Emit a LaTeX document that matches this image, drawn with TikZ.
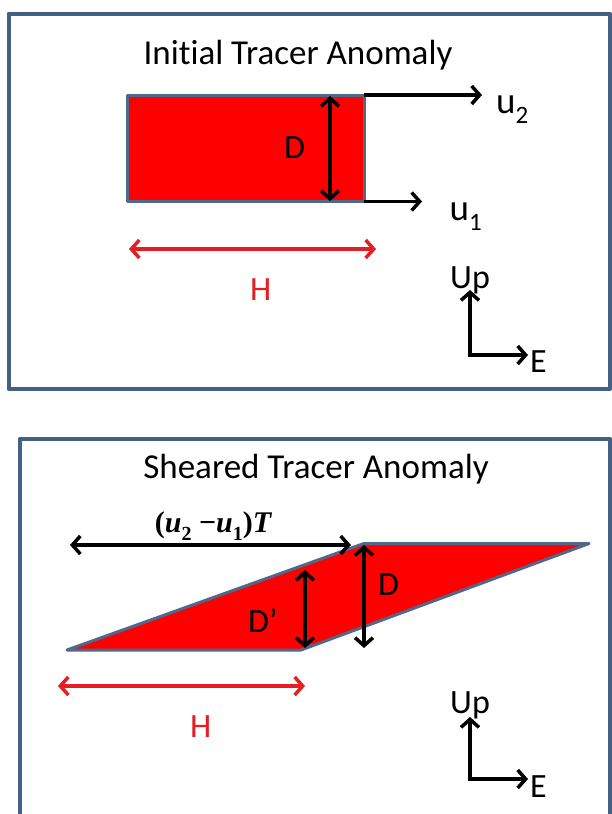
\documentclass[tikz,border=0pt]{standalone}
\usepackage{fontspec}
\setmainfont{Carlito}[Ligatures=NoCommon]
\newfontfamily\tnr{Liberation Serif}
\usetikzlibrary{arrows.meta}
\definecolor{framec}{RGB}{68,96,130}
\definecolor{edgec}{RGB}{80,104,140}
\definecolor{fillred}{RGB}{255,0,0}
\definecolor{hred}{RGB}{228,30,34}
\newcommand\subsc[2]{\raisebox{-0.28em}{\fontsize{#1}{#1}\selectfont #2}}
\begin{document}
\begin{tikzpicture}[x=1pt,y=-1pt,
  frm/.style={draw=framec,line width=4pt,line join=round},
  blob/.style={fill=fillred,draw=edgec,line width=3pt,line join=round},
  arr/.style={line width=3.5pt,-{Straight Barb[length=8pt,width=18pt]}},
  dbl/.style={line width=3.5pt,{Straight Barb[length=8pt,width=18pt]}-{Straight Barb[length=8pt,width=18pt]}},
  lbl/.style={inner sep=0pt,anchor=base west,font=\fontsize{34}{38}\selectfont},
  ttl/.style={inner sep=0pt,anchor=base,font=\fontsize{35}{40}\selectfont},
]
\useasboundingbox (0,0) rectangle (612,814);
\fill[white] (0,0) rectangle (612,814);

% ---------- top panel ----------
\draw[frm] (8.5,13.5) rectangle (609.5,389);
\node[ttl] (t1) at (298,64) {Initial Tracer Anomaly};
\draw[blob] (127.5,95) rectangle (364,201.5);

\coordinate (dT) at (330,96);
\coordinate (dB) at (330,201);
\draw[dbl] (dT) -- (dB);
\coordinate (u2s) at (364,95);
\coordinate (u2e) at (482,95);
\draw[arr] (u2s) -- (u2e);
\coordinate (u1s) at (364,201.5);
\coordinate (u1e) at (422,201.5);
\draw[arr] (u1s) -- (u1e);
\coordinate (hL) at (129,249);
\coordinate (hR) at (376,249);
\draw[dbl,hred] (hL) -- (hR);
\coordinate (upT) at (470,290);
\coordinate (eR) at (528,355);
\draw[dbl,line join=miter] (upT) |- (eR);

\node[lbl] (lD1) at (284,158) {D};
\node[lbl,font=\fontsize{37}{40}\selectfont] (lu2) at (496,113) {u\subsc{25}{2}};
\node[lbl,font=\fontsize{37}{40}\selectfont] (lu1) at (449.5,220) {u\subsc{25}{1}};
\node[lbl,text=hred] (lH1) at (250,300) {H};
\node[lbl] (lUp1) at (450,288) {Up};
\node[lbl] (lE1) at (530,372) {E};

% ---------- bottom panel ----------
\draw[frm] (20,830) -- (20,438.5) -- (609.5,438.5) -- (609.5,830);
\node[ttl] (t2) at (316,478) {Sheared Tracer Anomaly};
\draw[blob] (67,650) -- (301,650) -- (589,543.5) -- (364,543.5) -- cycle;

\coordinate (sL) at (70,545);
\coordinate (sR) at (351,545);
\draw[dbl] (sL) -- (sR);
\node[inner sep=0pt,anchor=base,font=\tnr\fontsize{30}{34}\selectfont\bfseries] (lshift) at (213.5,532)
  {(\textit{u}\subsc{20}{2}\hspace{0.25em}−\textit{u}\subsc{20}{1})\textit{T}};
\coordinate (dpT) at (305,570);
\coordinate (dpB) at (305,648);
\draw[dbl] (dpT) -- (dpB);
\coordinate (d2T) at (364,545);
\coordinate (d2B) at (364,648);
\draw[dbl] (d2T) -- (d2B);
\coordinate (h2L) at (58,686);
\coordinate (h2R) at (305,686);
\draw[dbl,hred] (h2L) -- (h2R);
\coordinate (up2T) at (470,717);
\coordinate (e2R) at (528,779);
\draw[dbl,line join=miter] (up2T) |- (e2R);

\node[lbl] (lD2) at (378,595) {D};
\node[lbl] (lDp) at (248,632) {D’};
\node[lbl,text=hred] (lH2) at (190,737) {H};
\node[lbl] (lUp2) at (450,713) {Up};
\node[lbl] (lE2) at (530,797) {E};
\end{tikzpicture}
\end{document}
